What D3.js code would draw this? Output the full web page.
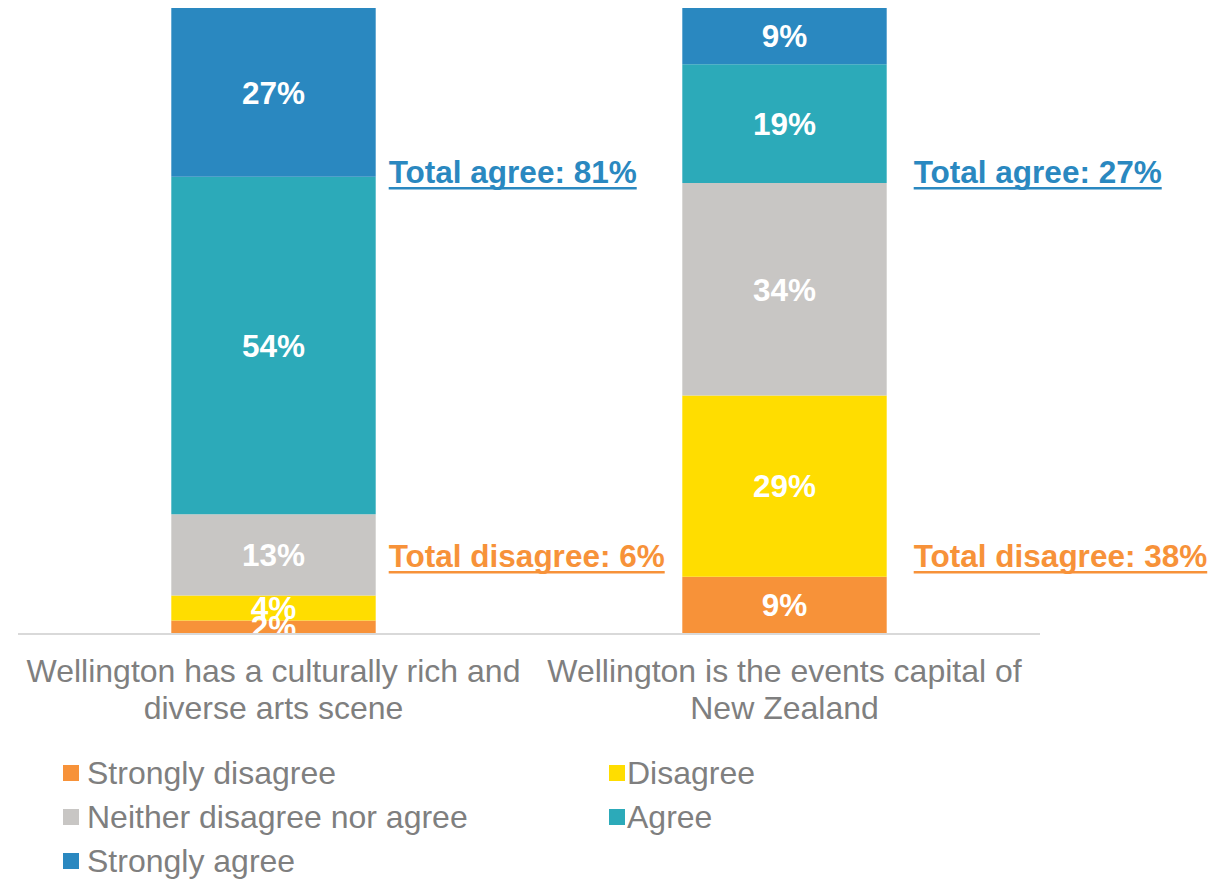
<!DOCTYPE html>
<html>
<head>
<meta charset="utf-8">
<script src="https://cdn.jsdelivr.net/npm/d3@7"></script>
<style>
  body { margin: 0; background: #fff; }
  svg { font-family: "Liberation Sans", Arial, sans-serif; }
</style>
</head>
<body>
<svg id="chart" width="1224" height="879"></svg>
<script>
const categories = [
  ['Wellington has a culturally rich and', 'diverse arts scene'],
  ['Wellington is the events capital of', 'New Zealand']
]
const seriesNames = ['Strongly disagree', 'Disagree', 'Neither disagree nor agree', 'Agree', 'Strongly agree']
const stronglyDisagree = [2, 9]
const disagree = [4, 29]
const neither = [13, 34]
const agree = [54, 19]
const stronglyAgree = [27, 9]
const totalAgree = [81, 27]
const totalDisagree = [6, 38]

const colors = ['#f79239', '#ffdd00', '#c8c6c4', '#2caab9', '#2a88c0']

const svg = d3.select('#chart')
const margin = { left: 18, right: 184, top: 8, baseline: 633 }

const x = d3.scaleBand()
  .domain(d3.range(categories.length))
  .range([margin.left, 1224 - margin.right])
  .paddingInner(0.6)
  .paddingOuter(0.3)

const y = d3.scaleLinear()
  .domain([0, 100])
  .range([margin.baseline, margin.top])

const rows = categories.map((c, i) => ({
  i,
  v0: stronglyDisagree[i], v1: disagree[i], v2: neither[i], v3: agree[i], v4: stronglyAgree[i]
}))
const stack = d3.stack().keys(['v0', 'v1', 'v2', 'v3', 'v4'])
const layers = stack(rows)

svg.append('defs').append('clipPath').attr('id', 'plot-clip')
  .append('rect')
  .attr('x', 0).attr('y', 0)
  .attr('width', 1224).attr('height', margin.baseline)

const g = svg.append('g').attr('clip-path', 'url(#plot-clip)')

layers.forEach((layer, k) => {
  g.selectAll(null)
    .data(layer)
    .enter().append('rect')
    .attr('x', d => x(d.data.i))
    .attr('width', x.bandwidth())
    .attr('y', d => y(d[1]))
    .attr('height', d => y(d[0]) - y(d[1]))
    .attr('fill', colors[k])
})

layers.forEach((layer, k) => {
  g.selectAll(null)
    .data(layer)
    .enter().append('text')
    .attr('x', d => x(d.data.i) + x.bandwidth() / 2)
    .attr('y', d => (y(d[0]) + y(d[1])) / 2)
    .attr('dy', '0.36em')
    .attr('text-anchor', 'middle')
    .attr('fill', '#fff')
    .attr('font-weight', 'bold')
    .attr('font-size', 31.5)
    .text(d => `${d[1] - d[0]}%`)
})

// axis baseline
svg.append('line')
  .attr('x1', margin.left).attr('x2', 1224 - margin.right)
  .attr('y1', margin.baseline + 1).attr('y2', margin.baseline + 1)
  .attr('stroke', '#d9d9d9')
  .attr('stroke-width', 2)

// category labels
categories.forEach((lines, i) => {
  const t = svg.append('text')
    .attr('text-anchor', 'middle')
    .attr('fill', '#7f7f7f')
    .attr('font-size', 32)
  lines.forEach((ln, j) => {
    t.append('tspan')
      .attr('x', x(i) + x.bandwidth() / 2)
      .attr('y', 682 + j * 37)
      .text(ln)
  })
})

// total annotations (gap from the bar's right edge differs per bar)
const totalGap = [13, 27]
const addTotal = (i, label, value, yPos, color) => {
  const tx = x(i) + x.bandwidth() + totalGap[i]
  const t = svg.append('text')
    .attr('x', tx)
    .attr('y', yPos)
    .attr('fill', color)
    .attr('font-weight', 'bold')
    .attr('font-size', 31.5)
    .text(`${label}: ${value}%`)
  const w = t.node().getComputedTextLength()
  svg.append('rect')
    .attr('x', tx).attr('y', yPos + 4)
    .attr('width', w).attr('height', 2.5)
    .attr('fill', color)
}
categories.forEach((c, i) => {
  addTotal(i, 'Total agree', totalAgree[i], 183, '#2a88c0')
  addTotal(i, 'Total disagree', totalDisagree[i], 567, '#f79239')
})

// legend
const legendPos = [[63, 772], [609, 772], [63, 816], [609, 816], [63, 860]]
seriesNames.forEach((name, k) => {
  const [lx, ly] = legendPos[k]
  svg.append('rect')
    .attr('x', lx).attr('y', ly - 7)
    .attr('width', 16).attr('height', 16)
    .attr('fill', colors[k])
  svg.append('text')
    .attr('x', lx + (k % 2 ? 18 : 24))
    .attr('y', ly)
    .attr('dy', '0.36em')
    .attr('fill', '#7f7f7f')
    .attr('font-size', 32)
    .text(name)
})
</script>
</body>
</html>
